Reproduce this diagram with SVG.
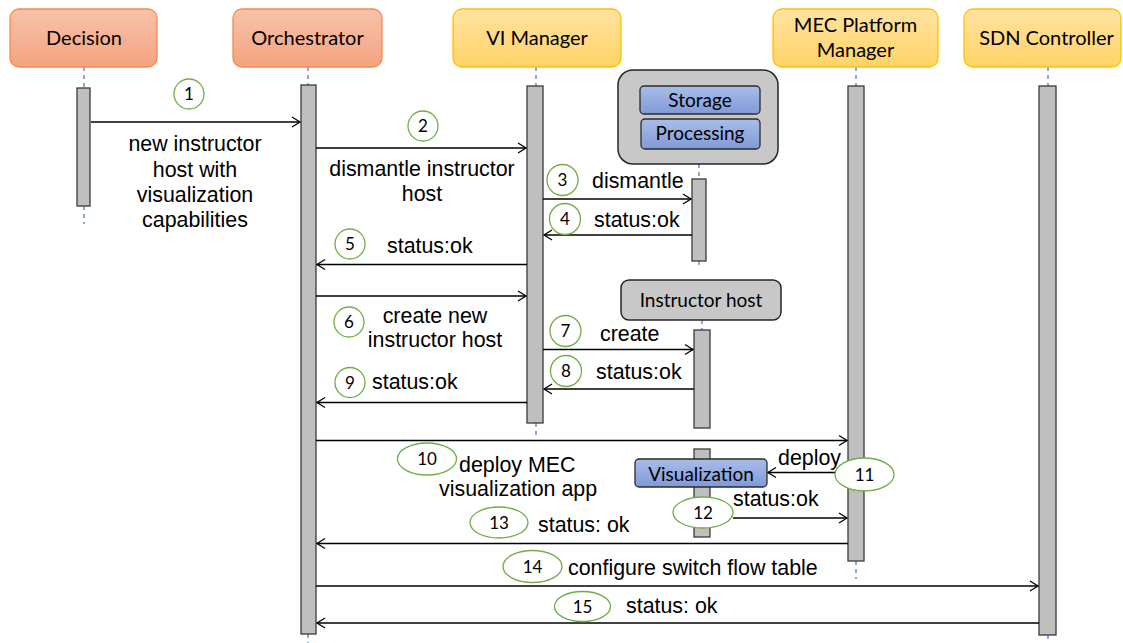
<svg xmlns="http://www.w3.org/2000/svg" width="1123" height="643" viewBox="0 0 1123 643">
<defs>
<linearGradient id="gOr" x1="0" y1="0" x2="0" y2="1"><stop offset="0" stop-color="#f8c2aa"/><stop offset="1" stop-color="#f4a37f"/></linearGradient>
<linearGradient id="gYe" x1="0" y1="0" x2="0" y2="1"><stop offset="0" stop-color="#ffe3a2"/><stop offset="1" stop-color="#ffd366"/></linearGradient>
<linearGradient id="gBl" x1="0" y1="0" x2="0" y2="1"><stop offset="0" stop-color="#aabde8"/><stop offset="1" stop-color="#7f9ad8"/></linearGradient>
<marker id="arr" markerUnits="userSpaceOnUse" markerWidth="12" markerHeight="14" viewBox="-10 -7 12 14" refX="0" refY="0" orient="auto">
<path d="M-8,-5 L0,0 L-8,5" fill="none" stroke="#000" stroke-width="1.3"/>
</marker>
<style>
.hOr{fill:url(#gOr);stroke:#f08c50;stroke-width:1.3}
.hYe{fill:url(#gYe);stroke:#ffc000;stroke-width:1.3}
.ht{font-family:Lato,"Noto Sans",sans-serif;font-size:20px;fill:#000;text-anchor:middle}
.bt{font-family:Lato,"Noto Sans",sans-serif;font-size:19px;fill:#000;text-anchor:middle}
.grp{fill:#c8c8c8;stroke:#262626;stroke-width:1.5}
.blu{fill:url(#gBl);stroke:#2b2b2b;stroke-width:1.3}
.act{fill:#bfbfbf;stroke:#3a3a3a;stroke-width:1.3}
.life{stroke:#4472c4;stroke-width:1.2;stroke-dasharray:4,4;fill:none}
.msg{stroke:#000;stroke-width:1.3;fill:none;marker-end:url(#arr)}
.num{fill:#fff;stroke:#70ad47;stroke-width:1.3}
.nt{font-family:Lato,"Noto Sans",sans-serif;font-size:17px;fill:#000;text-anchor:middle}
.mt{font-family:"Liberation Sans",Arial,sans-serif;font-size:21.4px;fill:#000}
.mc{text-anchor:middle}
</style>
</defs>
<rect width="1123" height="643" fill="#fff"/>

<g id="lifelines">
<line class="life" x1="84" y1="67" x2="84" y2="88"/>
<line class="life" x1="84" y1="206" x2="84" y2="224"/>
<line class="life" x1="308" y1="67" x2="308" y2="85"/>
<line class="life" x1="308" y1="634" x2="308" y2="643"/>
<line class="life" x1="536" y1="67" x2="536" y2="86"/>
<line class="life" x1="536" y1="423" x2="536" y2="439"/>
<line class="life" x1="699" y1="164" x2="699" y2="179"/>
<line class="life" x1="699" y1="261" x2="699" y2="269"/>
<line class="life" x1="702" y1="320" x2="702" y2="330"/>
<line class="life" x1="856" y1="67" x2="856" y2="86"/>
<line class="life" x1="856" y1="561" x2="856" y2="579"/>
<line class="life" x1="1048" y1="67" x2="1048" y2="86"/>
<line class="life" x1="1048" y1="635" x2="1048" y2="643"/>
</g>

<g id="decision">
<rect class="hOr" x="10" y="9" width="147" height="58" rx="9"/>
<text class="ht" x="84" y="45">Decision</text>
<rect class="act" x="77" y="88" width="13" height="118"/>
</g>
<g id="orchestrator">
<rect class="hOr" x="233" y="9" width="149" height="58" rx="9"/>
<text class="ht" x="307.5" y="45">Orchestrator</text>
<rect class="act" x="301" y="85" width="15" height="549"/>
</g>
<g id="vi-manager">
<rect class="hYe" x="453" y="9" width="168" height="58" rx="9"/>
<text class="ht" x="537" y="45">VI Manager</text>
<rect class="act" x="527" y="86" width="16" height="337"/>
</g>
<g id="mec-platform-manager">
<rect class="hYe" x="773" y="9" width="165" height="58" rx="9"/>
<text class="ht" x="855.5" y="32">MEC Platform</text>
<text class="ht" x="855.5" y="57">Manager</text>
<rect class="act" x="848" y="86" width="16" height="475"/>
</g>
<g id="sdn-controller">
<rect class="hYe" x="964" y="9" width="157" height="58" rx="9"/>
<text class="ht" x="1046.5" y="45">SDN Controller</text>
<rect class="act" x="1039" y="86" width="17" height="549"/>
</g>
<g id="storage-processing">
<rect class="grp" x="618" y="70" width="160" height="94" rx="15"/>
<rect class="blu" x="640" y="86" width="120" height="28" rx="4"/>
<text class="bt" x="700" y="107">Storage</text>
<rect class="blu" x="641" y="119" width="119" height="30" rx="4"/>
<text class="bt" x="700" y="140">Processing</text>
<rect class="act" x="692" y="179" width="14" height="82"/>
</g>
<g id="instructor-host">
<rect class="grp" x="621" y="280" width="160" height="40" rx="8"/>
<text class="bt" x="701" y="307">Instructor host</text>
<rect class="act" x="694" y="330" width="16" height="98"/>
<rect class="act" x="694" y="449" width="16" height="88"/>
</g>
<g id="visualization">
<rect class="blu" x="635" y="459" width="132" height="28" rx="4"/>
<text class="bt" x="701" y="481">Visualization</text>
</g>

<g id="connectors">
<line class="msg" x1="91" y1="122" x2="300" y2="122"/>
<line class="msg" x1="316" y1="148" x2="526" y2="148"/>
<line class="msg" x1="543" y1="199" x2="691" y2="199"/>
<line class="msg" x1="692" y1="235" x2="544" y2="235"/>
<line class="msg" x1="527" y1="264.5" x2="317" y2="264.5"/>
<line class="msg" x1="316" y1="296" x2="526" y2="296"/>
<line class="msg" x1="543" y1="349.5" x2="693" y2="349.5"/>
<line class="msg" x1="694" y1="389" x2="544" y2="389"/>
<line class="msg" x1="527" y1="402.5" x2="317" y2="402.5"/>
<line class="msg" x1="316" y1="440.5" x2="847" y2="440.5"/>
<line class="msg" x1="848" y1="472.5" x2="768" y2="472.5"/>
<line class="msg" x1="733" y1="518" x2="847" y2="518"/>
<line class="msg" x1="848" y1="543.5" x2="317" y2="543.5"/>
<line class="msg" x1="316" y1="586" x2="1038" y2="586"/>
<line class="msg" x1="1039" y1="623" x2="317" y2="623"/>
</g>

<g id="labels">
<text class="mt mc" x="195" y="151">new instructor</text>
<text class="mt mc" x="195" y="176.5">host with</text>
<text class="mt mc" x="195" y="202">visualization</text>
<text class="mt mc" x="195" y="227">capabilities</text>
<text class="mt mc" x="422" y="176">dismantle instructor</text>
<text class="mt mc" x="422" y="201">host</text>
<text class="mt" x="592" y="188">dismantle</text>
<text class="mt" x="594" y="227">status:ok</text>
<text class="mt" x="387" y="253">status:ok</text>
<text class="mt mc" x="435" y="323">create new</text>
<text class="mt mc" x="435" y="347">instructor host</text>
<text class="mt" x="600" y="341">create</text>
<text class="mt" x="596" y="379">status:ok</text>
<text class="mt" x="372" y="389">status:ok</text>
<text class="mt" x="459" y="472">deploy MEC</text>
<text class="mt" x="439" y="496">visualization app</text>
<text class="mt" x="778" y="465">deploy</text>
<text class="mt" x="733" y="506">status:ok</text>
<text class="mt" x="538" y="532">status: ok</text>
<text class="mt" x="568" y="575">configure switch flow table</text>
<text class="mt" x="626" y="613">status: ok</text>
</g>

<g id="step-numbers">
<circle class="num" cx="189" cy="94" r="15"/><text class="nt" x="189" y="100">1</text>
<circle class="num" cx="423" cy="126" r="15"/><text class="nt" x="423" y="132">2</text>
<circle class="num" cx="562.5" cy="180" r="15.5"/><text class="nt" x="562.5" y="186">3</text>
<circle class="num" cx="565" cy="219" r="15.5"/><text class="nt" x="565" y="225">4</text>
<circle class="num" cx="350" cy="244" r="15"/><text class="nt" x="350" y="250">5</text>
<circle class="num" cx="349" cy="322" r="15"/><text class="nt" x="349" y="328">6</text>
<circle class="num" cx="565.5" cy="331" r="15.5"/><text class="nt" x="565.5" y="337">7</text>
<circle class="num" cx="566" cy="371" r="15.5"/><text class="nt" x="566" y="377">8</text>
<circle class="num" cx="350" cy="382.5" r="15"/><text class="nt" x="350" y="388.5">9</text>
<ellipse class="num" cx="427" cy="459" rx="29.5" ry="16"/><text class="nt" x="427" y="465">10</text>
<ellipse class="num" cx="864.5" cy="474.5" rx="29.5" ry="16.5"/><text class="nt" x="864.5" y="480.5">11</text>
<ellipse class="num" cx="703" cy="512.5" rx="30" ry="15.5"/><text class="nt" x="703" y="518.5">12</text>
<ellipse class="num" cx="499" cy="522.5" rx="29" ry="15.5"/><text class="nt" x="499" y="528.5">13</text>
<ellipse class="num" cx="532.5" cy="566.5" rx="29.5" ry="16"/><text class="nt" x="532.5" y="572.5">14</text>
<ellipse class="num" cx="582.5" cy="606.5" rx="28" ry="15"/><text class="nt" x="582.5" y="612.5">15</text>
</g>
</svg>
